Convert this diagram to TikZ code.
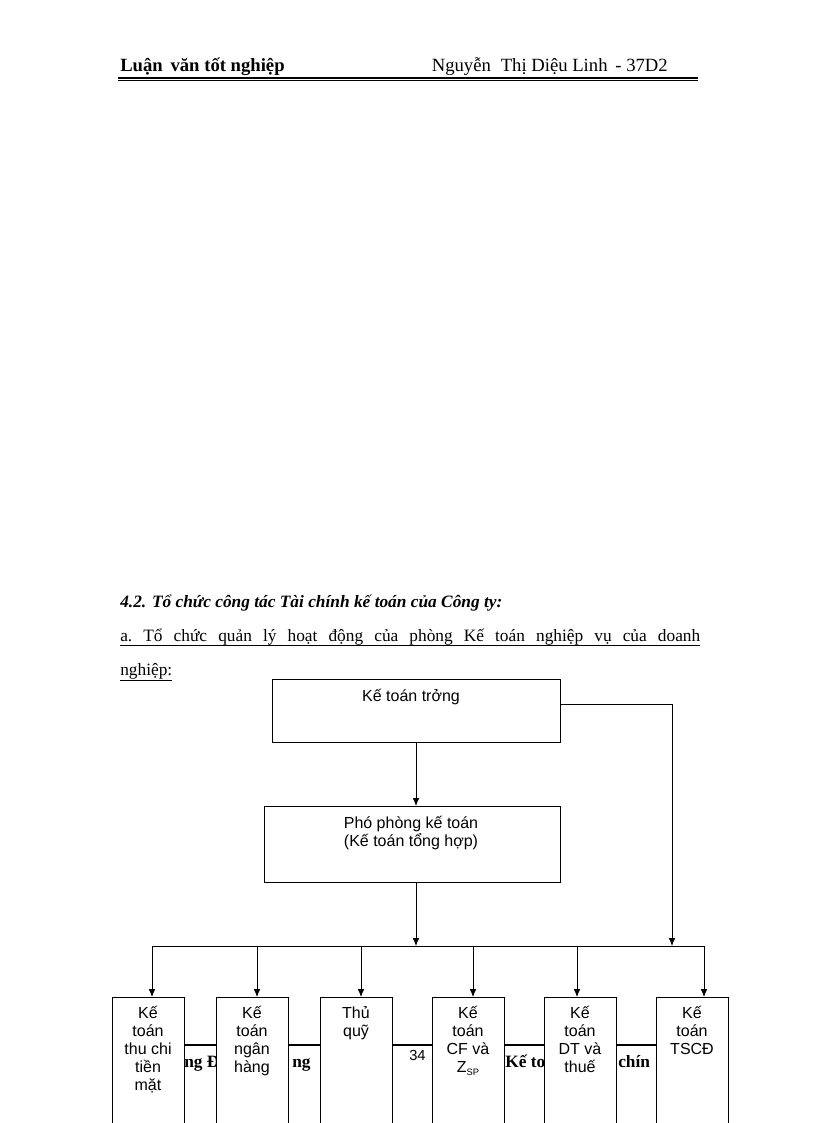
\documentclass[tikz,border=0pt]{standalone}
\usepackage{fontspec}
\usetikzlibrary{arrows.meta}
\setmainfont{Liberation Serif}
\newfontfamily\arial{Liberation Sans}
\begin{document}
\begin{tikzpicture}[x=0.75pt,y=-0.75pt,
 bx/.style={draw,line width=0.8pt,fill=white,anchor=north west,inner sep=0pt},
 bt/.style={font=\arial\fontsize{12}{13.5}\selectfont,align=center,anchor=north,inner sep=0pt},
 ar/.style={-{Latex[length=6pt,width=5pt]},line width=0.6pt}]
\useasboundingbox (0,0) rectangle (816,1123);
% header
\node[anchor=base west,inner sep=0pt,font=\bfseries\fontsize{14}{16}\selectfont] (h1) at (120,72) {Luận\, văn tốt nghiệp};
\node[anchor=base east,inner sep=0pt,font=\fontsize{14}{16}\selectfont] (h2) at (668,72) {Nguyễn\; Thị Diệu Linh\, - 37D2};
\draw[line width=1.2pt] (118,78) -- (698,78);
\draw[line width=0.5pt] (118,80.5) -- (698,80.5);
% heading
\node[anchor=base west,inner sep=0pt,font=\bfseries\itshape\fontsize{13}{15}\selectfont] (hd) at (120,607) {4.2. Tổ chức công tác Tài chính kế toán của Công ty:};
\node[anchor=base west,font=\fontsize{13}{15}\selectfont,text width=580pt*0.75,align=justify,inner sep=0pt] (p1) at (120,641) {a.\hfill Tổ\hfill chức\hfill quản\hfill lý\hfill hoạt\hfill động\hfill của\hfill phòng\hfill Kế\hfill toán\hfill nghiệp\hfill vụ\hfill của\hfill doanh};
\draw[line width=0.5pt] (120,645) -- (700,645);
\node[anchor=base west,font=\fontsize{13}{15}\selectfont,inner sep=0pt] (p2) at (120,675) {\underline{nghiệp:}};
% footer behind
\draw[line width=1.2pt] (112,1045) -- (728,1045);
\node[anchor=base west,font=\bfseries\fontsize{13}{15}\selectfont,inner sep=0pt] (f1) at (184,1067) {ng Đ};
\node[anchor=base west,font=\bfseries\fontsize{13}{15}\selectfont,inner sep=0pt] (f1b) at (292,1067) {ng};
\node[anchor=base west,font=\arial\fontsize{11}{13}\selectfont,inner sep=0pt] (f2) at (409,1060) {34};
\node[anchor=base west,font=\bfseries\fontsize{13}{15}\selectfont,inner sep=0pt] (f3) at (505,1067) {Kế to};
\node[anchor=base west,font=\bfseries\fontsize{13}{15}\selectfont,inner sep=0pt] (f4) at (618,1067) {chín};
% boxes
\node[bx,minimum width=288*0.75pt,minimum height=63*0.75pt] (b1) at (272,679) {};
\node[bt] at (411,689) {Kế toán trởng};
\node[bx,minimum width=296*0.75pt,minimum height=76*0.75pt] (b2) at (264,806) {};
\node[bt] at (411,816) {Phó phòng kế toán\\(Kế toán tổng hợp)};
\coordinate (c1) at (416,742); \coordinate (c2) at (416,806);
\draw[ar] (c1) -- (c2);
\coordinate (c3) at (416,882); \coordinate (c4) at (416,946);
\draw[ar] (c3) -- (c4);
\coordinate (r1) at (560,704); \coordinate (r2) at (672,946);
\draw[ar] (r1) -| (r2);
\coordinate (L) at (152,946); \coordinate (R) at (704,946);
\draw[line width=0.6pt] (L) -- (R);
\foreach \x/\ax/\t [count=\i] in {112/152/{Kế\\toán\\thu chi\\tiền\\mặt},216/257/{Kế\\toán\\ngân\\hàng},320/361/{Thủ\\quỹ},432/473/{Kế\\toán\\CF và\\Z\raisebox{-0.3ex}{\fontsize{7}{7}\selectfont SP}},544/577/{Kế\\toán\\DT và\\thuế},656/704/{Kế\\toán\\TSCĐ}}{
 \node[bx,minimum width=72*0.75pt,minimum height=140*0.75pt] (s\i) at (\x,997) {};
 \node[bt] at (\x+36,1006) {\t};
 \coordinate (t\i) at (\ax,946); \coordinate (u\i) at (\ax,997);
 \draw[ar] (t\i) -- (u\i);
}
\end{tikzpicture}
\end{document}
